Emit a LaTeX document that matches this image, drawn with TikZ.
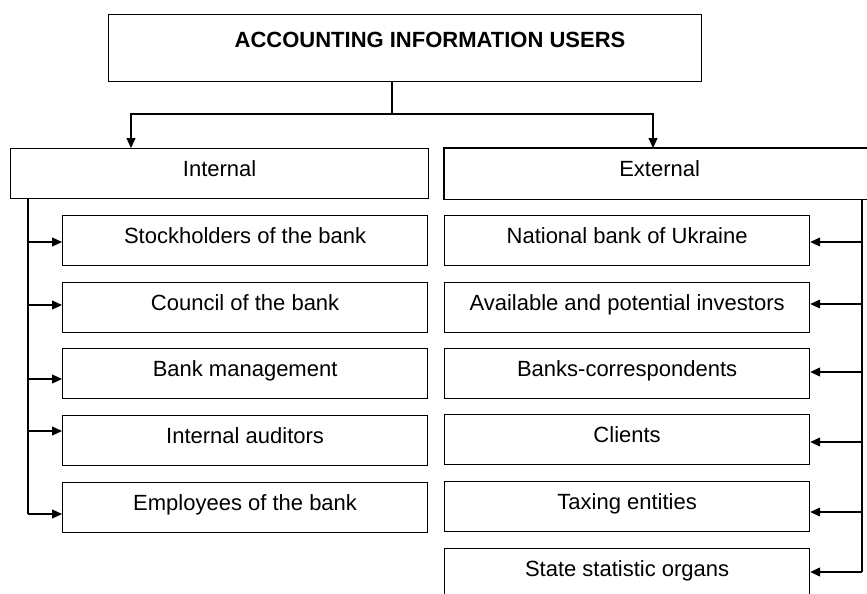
\documentclass[tikz,border=0pt]{standalone}
\usepackage{fontspec}
\setmainfont{Liberation Sans}
\usetikzlibrary{arrows.meta}
\begin{document}
\begin{tikzpicture}[x=1pt,y=-1pt,
  line/.style={line width=1.2pt, draw=black},
  arr/.style={line, -{Triangle[length=10pt,width=9pt]}},
  box/.style={line, rectangle, inner sep=0pt, anchor=north west,
    font=\fontsize{22}{26}\selectfont, text height=16pt, text depth=10pt},
  kid/.style={box, minimum width=365pt, minimum height=50pt}
]
\useasboundingbox (0,0) rectangle (867,594);
% top
\node[line, rectangle, anchor=north west, minimum width=593pt, minimum height=67pt, inner sep=0pt] (top) at (108,14) {};
\node[anchor=base, inner sep=0pt, font=\fontsize{22}{26}\selectfont\bfseries] (toptext) at (430,48) {ACCOUNTING INFORMATION USERS};
% groups
\node[box, minimum width=418pt, minimum height=50pt] (int) at (10,148) {Internal};
\node[box, draw=none, minimum width=430pt, minimum height=50pt] (ext) at (444,148) {External};
\draw[line] (ext.north east) -- (ext.north west) -- (ext.south west) -- (ext.south east);
% branch
\coordinate (st) at (392,114);
\coordinate (bl) at (131,114);
\coordinate (br) at (653,114);
\draw[line] (top.south -| st) -- (st);
\draw[arr] (st) -- (bl) -- (bl |- int.north);
\draw[arr] (st) -- (br) -- (br |- ext.north);
% left children
\node[kid] (s1) at (62,215) {Stockholders of the bank};
\node[kid] (s2) at (62,281.5) {Council of the bank};
\node[kid] (s3) at (62,348) {Bank management};
\node[kid] (s4) at (62,415) {Internal auditors};
\node[kid] (s5) at (62,482) {Employees of the bank};
% right children
\node[kid] (e1) at (444,215) {National bank of Ukraine};
\node[kid] (e2) at (444,281.5) {Available and potential investors};
\node[kid] (e3) at (444,348) {Banks-correspondents};
\node[kid] (e4) at (444,414) {Clients};
\node[kid] (e5) at (444,481) {Taxing entities};
\node[kid] (e6) at (444,548) {State statistic organs};
% left connectors
\coordinate (la1) at (28,242);
\coordinate (la2) at (28,305);
\coordinate (la3) at (28,379);
\coordinate (la4) at (28,431);
\coordinate (la5) at (28,514);
\draw[line] (int.south -| la1) -- (la5);
\draw[arr] (la1) -- (la1 -| s1.west);
\draw[arr] (la2) -- (la2 -| s2.west);
\draw[arr] (la3) -- (la3 -| s3.west);
\draw[arr] (la4) -- (la4 -| s4.west);
\draw[arr] (la5) -- (la5 -| s5.west);
% right connectors
\coordinate (ra1) at (862,242);
\coordinate (ra2) at (862,304);
\coordinate (ra3) at (862,372);
\coordinate (ra4) at (862,442);
\coordinate (ra5) at (862,512);
\coordinate (ra6) at (862,572);
\draw[line] (ext.south -| ra1) -- (ra6);
\draw[arr] (ra1) -- (ra1 -| e1.east);
\draw[arr] (ra2) -- (ra2 -| e2.east);
\draw[arr] (ra3) -- (ra3 -| e3.east);
\draw[arr] (ra4) -- (ra4 -| e4.east);
\draw[arr] (ra5) -- (ra5 -| e5.east);
\draw[arr] (ra6) -- (ra6 -| e6.east);
\end{tikzpicture}
\end{document}
